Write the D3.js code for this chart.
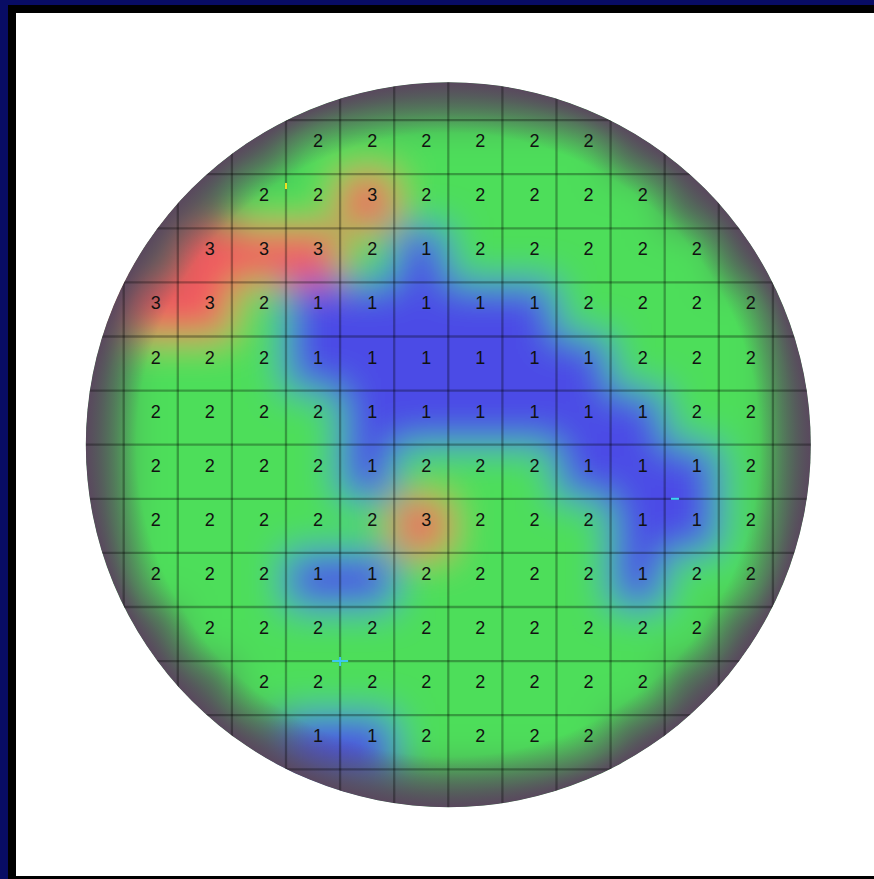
<!DOCTYPE html>
<html>
<head>
<meta charset="utf-8">
<script src="https://cdn.jsdelivr.net/npm/d3@7"></script>
<style>
  html, body { margin: 0; padding: 0; background: #fff; }
  svg { display: block; }
</style>
</head>
<body>
<svg id="chart"></svg>
<script>
// Wafer bin map: each row starts at a given column, then lists the bin codes
const rowStart = [3, 2, 1, 0, 0, 0, 0, 0, 0, 1, 2, 3];
const rowBins = [
    [2, 2, 2, 2, 2, 2],
    [2, 2, 3, 2, 2, 2, 2, 2],
    [3, 3, 3, 2, 1, 2, 2, 2, 2, 2],
    [3, 3, 2, 1, 1, 1, 1, 1, 2, 2, 2, 2],
    [2, 2, 2, 1, 1, 1, 1, 1, 1, 2, 2, 2],
    [2, 2, 2, 2, 1, 1, 1, 1, 1, 1, 2, 2],
    [2, 2, 2, 2, 1, 2, 2, 2, 1, 1, 1, 2],
    [2, 2, 2, 2, 2, 3, 2, 2, 2, 1, 1, 2],
    [2, 2, 2, 1, 1, 2, 2, 2, 2, 1, 2, 2],
    [2, 2, 2, 2, 2, 2, 2, 2, 2, 2],
    [2, 2, 2, 2, 2, 2, 2, 2],
    [1, 1, 2, 2, 2, 2]
];
const binCodes = [1, 2, 3];
// small probe marks, in grid-line units
const probeMarks = [
    { gx: 4, gy: 10, kind: "cross" },
    { gx: 10.19, gy: 7, kind: "dash" },
    { gx: 3, gy: 1.22, kind: "tick" }
];

const width = 874, height = 879;
const cell = 54.1;
const cx = 448.3, cy = 444.7, radius = 362.5;

const svg = d3.select("#chart").attr("width", width).attr("height", height);

// window frame
svg.append("rect").attr("width", width).attr("height", height).attr("fill", "#080c64");
svg.append("rect").attr("x", 8).attr("y", 5).attr("width", width - 8).attr("height", height - 5).attr("fill", "#000");
svg.append("rect").attr("x", 16).attr("y", 13).attr("width", width - 16).attr("height", 863).attr("fill", "#fff");

// flatten data
const dies = [];
rowBins.forEach((bins, r) => {
    bins.forEach((b, i) => dies.push({ row: r, col: rowStart[r] + i, bin: b }));
});

// grid-line scales (line index 0..12)
const x = d3.scaleLinear().domain([0, 12]).range([cx - 6 * cell, cx + 6 * cell]);
const y = d3.scaleLinear().domain([0, 12]).range([cy - 6 * cell, cy + 6 * cell]);
const color = d3.scaleOrdinal().domain(binCodes).range(["#4c4ce6", "#4ede5a", "#f4575e"]);
const edgeColor = "#4d7659";
const rimColor = "#5a465e";

const defs = svg.append("defs");
defs.append("clipPath").attr("id", "wafer")
    .append("circle").attr("cx", cx).attr("cy", cy).attr("r", radius);
const blur = defs.append("filter").attr("id", "soft")
    .attr("x", -0.1).attr("y", -0.1).attr("width", 1.2).attr("height", 1.2);
blur.append("feGaussianBlur").attr("stdDeviation", 19);

// darkening towards the wafer edge
const vignette = defs.append("radialGradient").attr("id", "rim")
    .attr("cx", 0.5).attr("cy", 0.5).attr("r", 0.5);
vignette.append("stop").attr("offset", "86%").attr("stop-color", rimColor).attr("stop-opacity", 0);
vignette.append("stop").attr("offset", "95%").attr("stop-color", rimColor).attr("stop-opacity", 0.55);
vignette.append("stop").attr("offset", "100%").attr("stop-color", rimColor).attr("stop-opacity", 0.95);

const wafer = svg.append("g").attr("clip-path", "url(#wafer)");

// Colour field
const field = wafer.append("g").attr("filter", "url(#soft)");
field.append("rect")
    .attr("x", cx - radius - 60).attr("y", cy - radius - 60)
    .attr("width", 2 * radius + 120).attr("height", 2 * radius + 120)
    .attr("fill", edgeColor);
field.selectAll("rect.die")
    .data(dies)
    .enter()
    .append("rect")
    .attr("class", "die")
    .attr("x", d => x(d.col))
    .attr("y", d => y(d.row))
    .attr("width", cell + 0.5)
    .attr("height", cell + 0.5)
    .attr("fill", d => color(d.bin));

wafer.append("circle")
    .attr("cx", cx).attr("cy", cy).attr("r", radius)
    .attr("fill", "url(#rim)");

// Grid lines across the whole wafer
const lineIdx = d3.range(-1, 14);
wafer.selectAll("line.v")
    .data(lineIdx)
    .enter()
    .append("line")
    .attr("x1", d => x(d)).attr("x2", d => x(d))
    .attr("y1", cy - radius).attr("y2", cy + radius)
    .attr("stroke", "#000").attr("stroke-opacity", 0.3).attr("stroke-width", 2.3);
wafer.selectAll("line.h")
    .data(lineIdx)
    .enter()
    .append("line")
    .attr("y1", d => y(d)).attr("y2", d => y(d))
    .attr("x1", cx - radius).attr("x2", cx + radius)
    .attr("stroke", "#000").attr("stroke-opacity", 0.3).attr("stroke-width", 2.3);

// probe marks
probeMarks.forEach(m => {
    const px = x(m.gx), py = y(m.gy);
    if (m.kind === "cross") {
        wafer.append("line").attr("x1", px - 8).attr("x2", px + 8).attr("y1", py).attr("y2", py)
            .attr("stroke", "#3cc8f0").attr("stroke-width", 2);
        wafer.append("line").attr("x1", px).attr("x2", px).attr("y1", py - 4).attr("y2", py + 5)
            .attr("stroke", "#3cc8f0").attr("stroke-width", 2);
    } else if (m.kind === "dash") {
        wafer.append("line").attr("x1", px - 4).attr("x2", px + 4).attr("y1", py).attr("y2", py)
            .attr("stroke", "#3cd8f0").attr("stroke-width", 2);
    } else {
        wafer.append("line").attr("x1", px).attr("x2", px).attr("y1", py - 3).attr("y2", py + 3)
            .attr("stroke", "#f0e020").attr("stroke-width", 2);
    }
});

// Bin labels
wafer.selectAll("text.bin")
    .data(dies)
    .enter()
    .append("text")
    .attr("class", "bin")
    .attr("x", d => x(d.col + 0.5))
    .attr("y", d => y(d.row + 0.5))
    .attr("font-family", "'Liberation Sans', Arial, sans-serif")
    .attr("font-size", "18px")
    .attr("fill", "#111")
    .text(d => d.bin);
</script>
</body>
</html>
